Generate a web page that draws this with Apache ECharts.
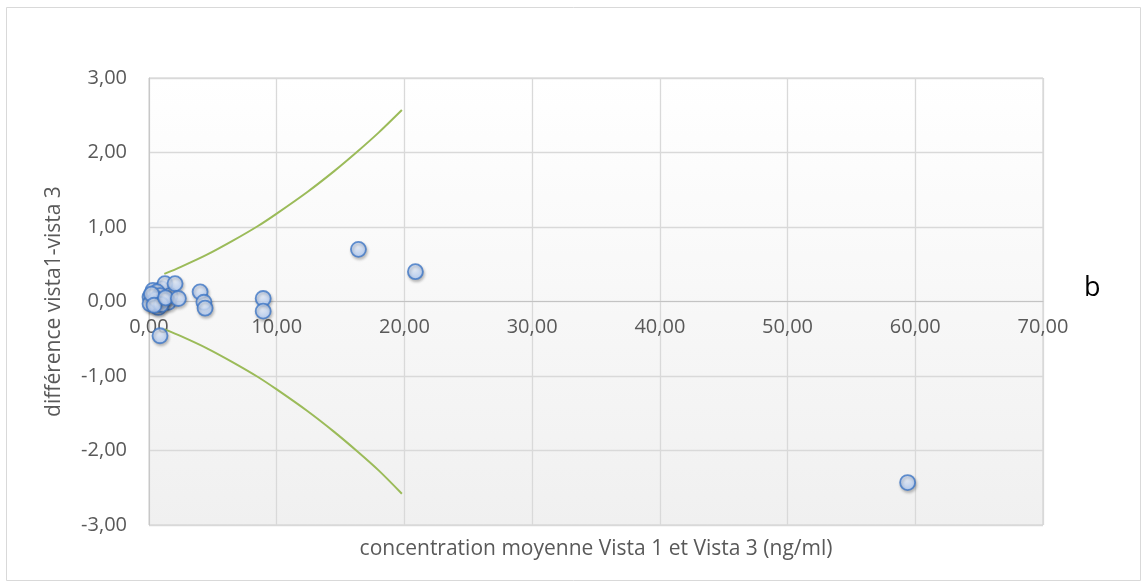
<!DOCTYPE html>
<html>
<head>
<meta charset="utf-8">
<script src="https://cdn.jsdelivr.net/npm/echarts@6/dist/echarts.min.js"></script>
<style>
html,body{margin:0;padding:0;background:#fff;}
#chart{width:1147px;height:587px;}
</style>
</head>
<body>
<div id="chart"></div>
<script>
// Scatter data: mean concentration (x) and difference Vista1 - Vista3 (y)
const meanConc = [0.08, 0.47, 1.00, 1.25, 0.31, 0.63, 1.65, 0.86, 0.34, 0.73, 0.08, 1.51, 0.55, 1.10, 0.20, 0.95, 0.40, 1.30, 0.86, 2.04, 2.30, 4.00, 4.30, 4.39, 8.94, 8.94, 16.40, 20.86, 59.40];
const diffVals = [0.06, 0.13, 0.17, 0.24, 0.15, 0.13, 0.08, 0.08, -0.01, -0.08, -0.03, -0.01, 0.03, 0.02, 0.10, -0.04, -0.05, 0.05, -0.46, 0.24, 0.04, 0.13, -0.01, -0.09, 0.04, -0.13, 0.70, 0.40, -2.43];

// Limit curves
const limitX = [1.2, 2.5, 4.5, 6.5, 8.5, 10, 12.4, 14.5, 16.3, 18, 19.8];
const upperLimit = [0.37, 0.465, 0.625, 0.81, 1.01, 1.18, 1.47, 1.75, 2.01, 2.27, 2.57];
const lowerLimit = [-0.37, -0.465, -0.625, -0.81, -1.01, -1.18, -1.47, -1.75, -2.01, -2.27, -2.58];

const xTicks = [0, 10, 20, 30, 40, 50, 60, 70];
const yTicks = [-3, -2, -1, 0, 1, 2, 3];

const xName = 'concentration moyenne Vista 1 et Vista 3 (ng/ml)';
const yName = 'différence vista1-vista 3';
const sideLabel = 'b';

const FONT = 'Open Sans';
const fmt = v => v.toFixed(2).replace('.', ',');

const chart = echarts.init(document.getElementById('chart'), null, {renderer: 'canvas'});

const scatterData = meanConc.map((x, i) => [x, diffVals[i]]);
const upperData = limitX.map((x, i) => [x, upperLimit[i]]);
const lowerData = limitX.map((x, i) => [x, lowerLimit[i]]);

const GRID_TOP = 78, GRID_BOTTOM = 62, CHART_H = 587;
const plotH = CHART_H - GRID_TOP - GRID_BOTTOM;
// move the x axis up to the zero line (middle of the symmetric y range)
const zeroOffset = -plotH * (0 - yTicks[0]) / (yTicks[yTicks.length - 1] - yTicks[0]);

const option = {
  backgroundColor: '#ffffff',
  animation: false,
  grid: {
    left: 149, right: 104, top: GRID_TOP, bottom: GRID_BOTTOM,
    show: true,
    borderColor: '#cfcfcf',
    borderWidth: 1,
    backgroundColor: new echarts.graphic.LinearGradient(0, 0, 0, 1, [
      {offset: 0, color: '#ffffff'},
      {offset: 1, color: '#f0f0f0'}
    ])
  },
  xAxis: {
    type: 'value',
    position: 'bottom',
    offset: zeroOffset,
    min: xTicks[0], max: xTicks[xTicks.length - 1], interval: 10,
    axisLine: {show: true, onZero: false, lineStyle: {color: '#c3c3c3', width: 1}},
    axisTick: {show: false},
    splitLine: {show: true, lineStyle: {color: '#d9d9d9', width: 1.3}},
    axisLabel: {
      margin: 16, color: '#595959', fontSize: 20, fontFamily: FONT,
      formatter: v => fmt(v)
    }
  },
  yAxis: {
    type: 'value',
    min: yTicks[0], max: yTicks[yTicks.length - 1], interval: 1,
    axisLine: {show: true, onZero: false, lineStyle: {color: '#c8c8c8'}},
    axisTick: {show: false},
    splitLine: {show: true, lineStyle: {color: '#d9d9d9', width: 1.3}},
    axisLabel: {
      margin: 22, color: '#595959', fontSize: 20, fontFamily: FONT,
      formatter: v => fmt(v)
    },
    name: yName,
    nameLocation: 'middle',
    nameGap: 84,
    nameTextStyle: {color: '#595959', fontSize: 21, fontFamily: FONT}
  },
  series: [{
    type: 'line',
    data: upperData,
    showSymbol: false,
    smooth: 0.3,
    lineStyle: {color: '#9bbb59', width: 2},
    z: 2
  }, {
    type: 'line',
    data: lowerData,
    showSymbol: false,
    smooth: 0.3,
    lineStyle: {color: '#9bbb59', width: 2},
    z: 2
  }, {
    type: 'scatter',
    data: scatterData,
    symbol: 'circle',
    symbolSize: 15,
    itemStyle: {
      color: new echarts.graphic.RadialGradient(0.45, 0.35, 0.75, [
        {offset: 0, color: '#eaf2ff'},
        {offset: 1, color: '#a4c4f6'}
      ]),
      borderColor: '#3f77c6',
      borderWidth: 1.8,
      shadowBlur: 3,
      shadowColor: 'rgba(0,0,0,0.28)',
      shadowOffsetX: 1,
      shadowOffsetY: 2
    },
    z: 3
  }],
  graphic: [{
    type: 'rect',
    shape: {x: 6.5, y: 7.5, width: 1134, height: 573},
    style: {fill: 'none', stroke: '#d9d9d9', lineWidth: 1},
    silent: true, z: -1
  }, {
    type: 'text',
    x: 596, y: 549,
    style: {text: xName, fill: '#595959', font: '21px "' + FONT + '"', textAlign: 'center', textVerticalAlign: 'middle'}
  }, {
    type: 'text',
    x: 1084, y: 288,
    style: {text: sideLabel, fill: '#000', font: '27px "' + FONT + '"', textAlign: 'left', textVerticalAlign: 'middle'}
  }]
};
chart.setOption(option);
</script>
</body>
</html>
